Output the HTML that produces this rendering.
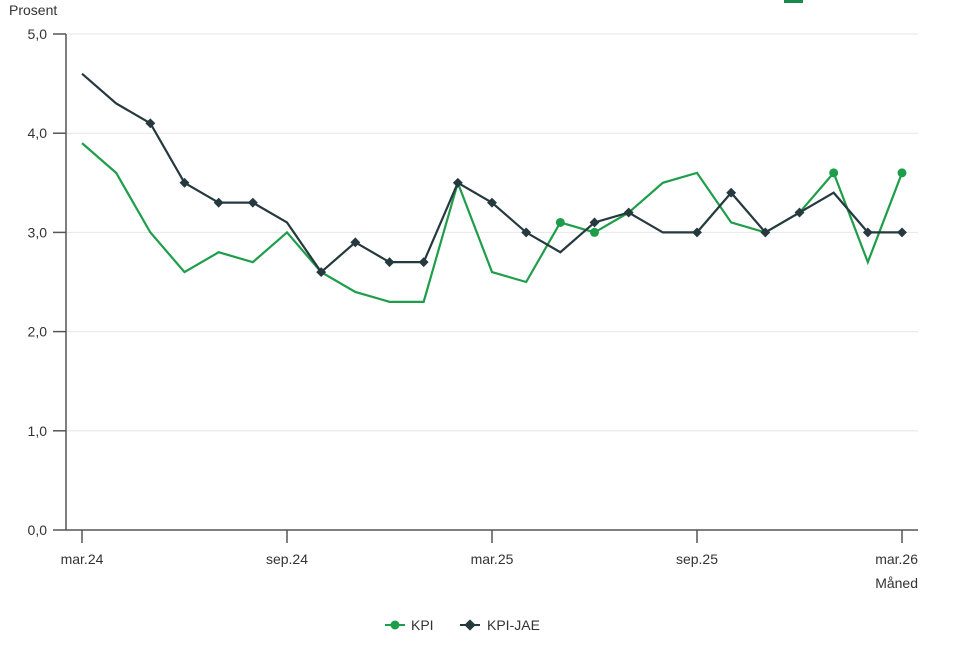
<!DOCTYPE html><html><head><meta charset="utf-8"><style>body{margin:0;background:#fff}svg{display:block;font-family:"Liberation Sans",sans-serif}</style></head><body>
<svg id="s" width="956" height="648" xmlns="http://www.w3.org/2000/svg">
<rect x="784" y="0" width="19" height="3" fill="#1a8a4a"/>
<text x="9" y="15" font-size="14" fill="#333">Prosent</text>
<g id="g"></g>
<line x1="66" y1="34" x2="66" y2="530" stroke="#555" stroke-width="1.5"/>
<line x1="66" y1="530" x2="918" y2="530" stroke="#555" stroke-width="1.5"/>
<text x="918" y="588" font-size="14" fill="#333" text-anchor="end">Måned</text>
<line x1="385" y1="625" x2="405" y2="625" stroke="#1e9e4a" stroke-width="2"/><circle cx="395" cy="625" r="4.5" fill="#1e9e4a"/>
<text x="411" y="630" font-size="14" fill="#333">KPI</text>
<line x1="460" y1="625" x2="480" y2="625" stroke="#26393f" stroke-width="2"/><rect x="466" y="621" width="8" height="8" transform="rotate(45 470 625)" fill="#26393f"/>
<text x="487" y="630" font-size="14" fill="#333">KPI-JAE</text>
</svg>
<script>
var g=document.getElementById('g'),h='';
function Y(v){return 530-v*99.2}function X(i){return 82+i*34.167}
for(var v=0;v<=5;v++){var y=Y(v);if(v>0)h+='<line x1="66" y1="'+y+'" x2="918" y2="'+y+'" stroke="#e6e6e6"/>';h+='<line x1="53" y1="'+y+'" x2="66" y2="'+y+'" stroke="#555" stroke-width="1.5"/><text x="47" y="'+(y+5)+'" font-size="14" fill="#333" text-anchor="end">'+v+',0</text>';}
var L=['mar.24','sep.24','mar.25','sep.25','mar.26'];
for(var i=0;i<5;i++){var x=X(i*6);h+='<line x1="'+x+'" y1="530" x2="'+x+'" y2="543" stroke="#555" stroke-width="1.5"/>';
if(i==4)h+='<text x="918" y="564" font-size="14" fill="#333" text-anchor="end">'+L[i]+'</text>';
else h+='<text x="'+x+'" y="564" font-size="14" fill="#333" text-anchor="middle">'+L[i]+'</text>';}
var k=[3.9,3.6,3.0,2.6,2.8,2.7,3.0,2.6,2.4,2.3,2.3,3.5,2.6,2.5,3.1,3.0,3.2,3.5,3.6,3.1,3.0,3.2,3.6,2.7,3.6];
var j=[4.6,4.3,4.1,3.5,3.3,3.3,3.1,2.6,2.9,2.7,2.7,3.5,3.3,3.0,2.8,3.1,3.2,3.0,3.0,3.4,3.0,3.2,3.4,3.0,3.0];
var km=[14,15,22,24],jm=[2,3,4,5,7,8,9,10,11,12,13,15,16,18,19,20,21,23,24];
function pts(a){return a.map(function(v,i){return X(i)+','+Y(v)}).join(' ')}
h+='<polyline points="'+pts(k)+'" fill="none" stroke="#1e9e4a" stroke-width="2.2"/>';
h+='<polyline points="'+pts(j)+'" fill="none" stroke="#26393f" stroke-width="2.2"/>';
km.forEach(function(i){h+='<circle cx="'+X(i)+'" cy="'+Y(k[i])+'" r="4.5" fill="#1e9e4a"/>'});
jm.forEach(function(i){var x=X(i),y=Y(j[i]);h+='<rect x="'+(x-3.5)+'" y="'+(y-3.5)+'" width="7" height="7" transform="rotate(45 '+x+' '+y+')" fill="#26393f"/>'});
g.innerHTML=h;
</script></body></html>
